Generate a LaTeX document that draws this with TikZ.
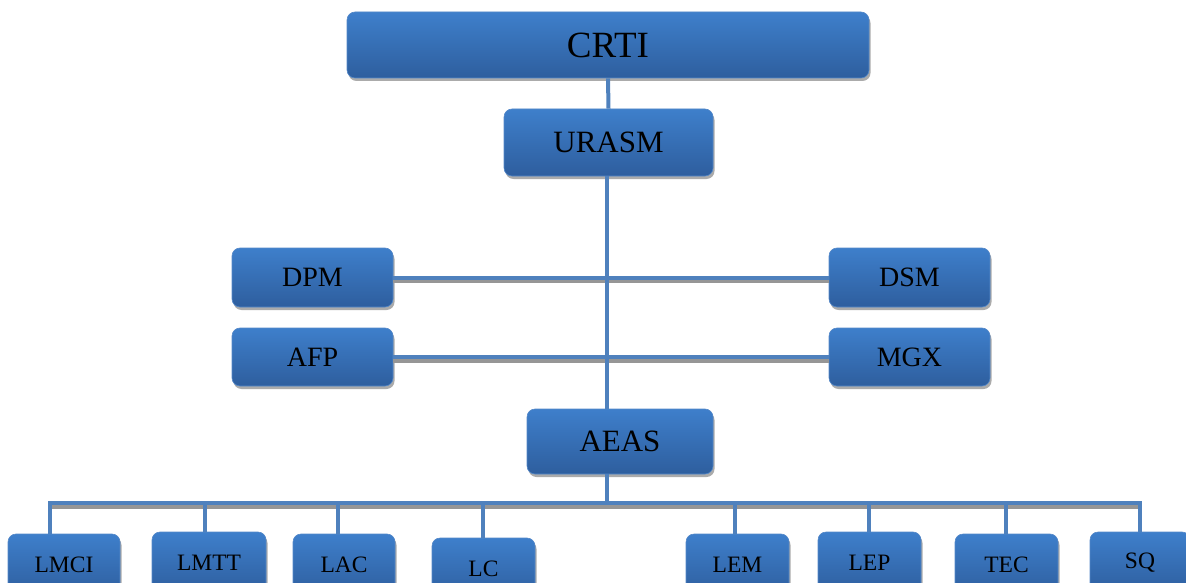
\documentclass[tikz,border=0pt]{standalone}
\usepackage{fontspec}
\setmainfont{Liberation Serif}
\usetikzlibrary{shadows}
\definecolor{lineblue}{RGB}{79,129,189}
\definecolor{boxtop}{RGB}{62,127,203}
\definecolor{boxbot}{RGB}{46,94,158}
\definecolor{boxedge}{RGB}{84,136,200}
\definecolor{shadowgray}{RGB}{150,150,150}
\tikzset{
  orgbox/.style={rectangle, rounded corners=8pt, top color=boxtop, bottom color=boxbot,
    draw=boxedge, line width=0.6pt, inner sep=0pt, text=black,
    drop shadow={shadow xshift=1.5pt, shadow yshift=-3pt, fill=shadowgray, opacity=0.8}},
  fbig/.style={font=\fontsize{37}{40}\selectfont},
  fmid/.style={font=\fontsize{31}{34}\selectfont},
  fsmall/.style={font=\fontsize{28}{30}\selectfont},
  ftiny/.style={font=\fontsize{23.5}{26}\selectfont},
  conn/.style={draw=lineblue, line width=4pt},
  connsh/.style={draw=lineblue, line width=4pt,
    preaction={draw=shadowgray, line width=4pt, transform canvas={yshift=-3.5pt}}},
  botbox/.style={orgbox, ftiny, minimum height=62pt},
}
\begin{document}
\begin{tikzpicture}[x=1pt,y=-1pt]
\useasboundingbox (0,0) rectangle (1186,583);
\clip (0,0) rectangle (1186,583);
% boxes
\node[orgbox, fbig, minimum width=522pt, minimum height=66pt] (crti) at (608,45) {CRTI};
\node[orgbox, fmid, minimum width=209pt, minimum height=67pt] (urasm) at (608.5,142.5) {URASM};
\node[orgbox, fsmall, minimum width=161pt, minimum height=59pt] (dpm) at (312.5,277.5) {DPM};
\node[orgbox, fsmall, minimum width=161pt, minimum height=59pt] (dsm) at (909.5,277.5) {DSM};
\node[orgbox, fsmall, minimum width=161pt, minimum height=58pt] (afp) at (312.5,357) {AFP};
\node[orgbox, fsmall, minimum width=161pt, minimum height=58pt] (mgx) at (909.5,357) {MGX};
\node[orgbox, fmid, minimum width=186pt, minimum height=65pt] (aeas) at (620,441.5) {AEAS};
\node[botbox, minimum width=112pt] (lmci) at (64,565) {LMCI};
\node[botbox, minimum width=114pt] (lmtt) at (209,563) {LMTT};
\node[botbox, minimum width=102pt] (lac) at (344,565) {LAC};
\node[botbox, minimum width=103pt] (lc) at (483.5,569) {LC};
\node[botbox, minimum width=103pt] (lem) at (737.5,565) {LEM};
\node[botbox, minimum width=103pt] (lep) at (869.5,563) {LEP};
\node[botbox, minimum width=103pt] (tec) at (1006.5,565) {TEC};
\node[botbox, minimum width=100pt] (sq) at (1140,563) {SQ};
% trunk
\coordinate (trunk) at (607,0);
\coordinate (bus) at (607,503);
\coordinate (b1) at (50,503);
\coordinate (b2) at (205,503);
\coordinate (b3) at (338,503);
\coordinate (b4) at (483,503);
\coordinate (b5) at (735,503);
\coordinate (b6) at (869,503);
\coordinate (b7) at (1006,503);
\coordinate (b8) at (1140,503);
% horizontal connectors (with shadow)
\draw[connsh] (dpm.east) -- (dsm.west);
\draw[connsh] (afp.east) -- (mgx.west);
\draw[connsh] (b1) -- (b8);
% vertical connectors
\draw[conn] (crti.south) -- (urasm.north);
\draw[conn] (trunk |- urasm.south) -- (trunk |- aeas.north);
\draw[conn] (trunk |- aeas.south) -- (bus);
\draw[conn] (b1 |- lmci.north) -- (b1) -- (b8) -- (b8 |- sq.north);
\draw[conn] (b2) -- (b2 |- lmtt.north);
\draw[conn] (b3) -- (b3 |- lac.north);
\draw[conn] (b4) -- (b4 |- lc.north);
\draw[conn] (b5) -- (b5 |- lem.north);
\draw[conn] (b6) -- (b6 |- lep.north);
\draw[conn] (b7) -- (b7 |- tec.north);
\end{tikzpicture}
\end{document}
